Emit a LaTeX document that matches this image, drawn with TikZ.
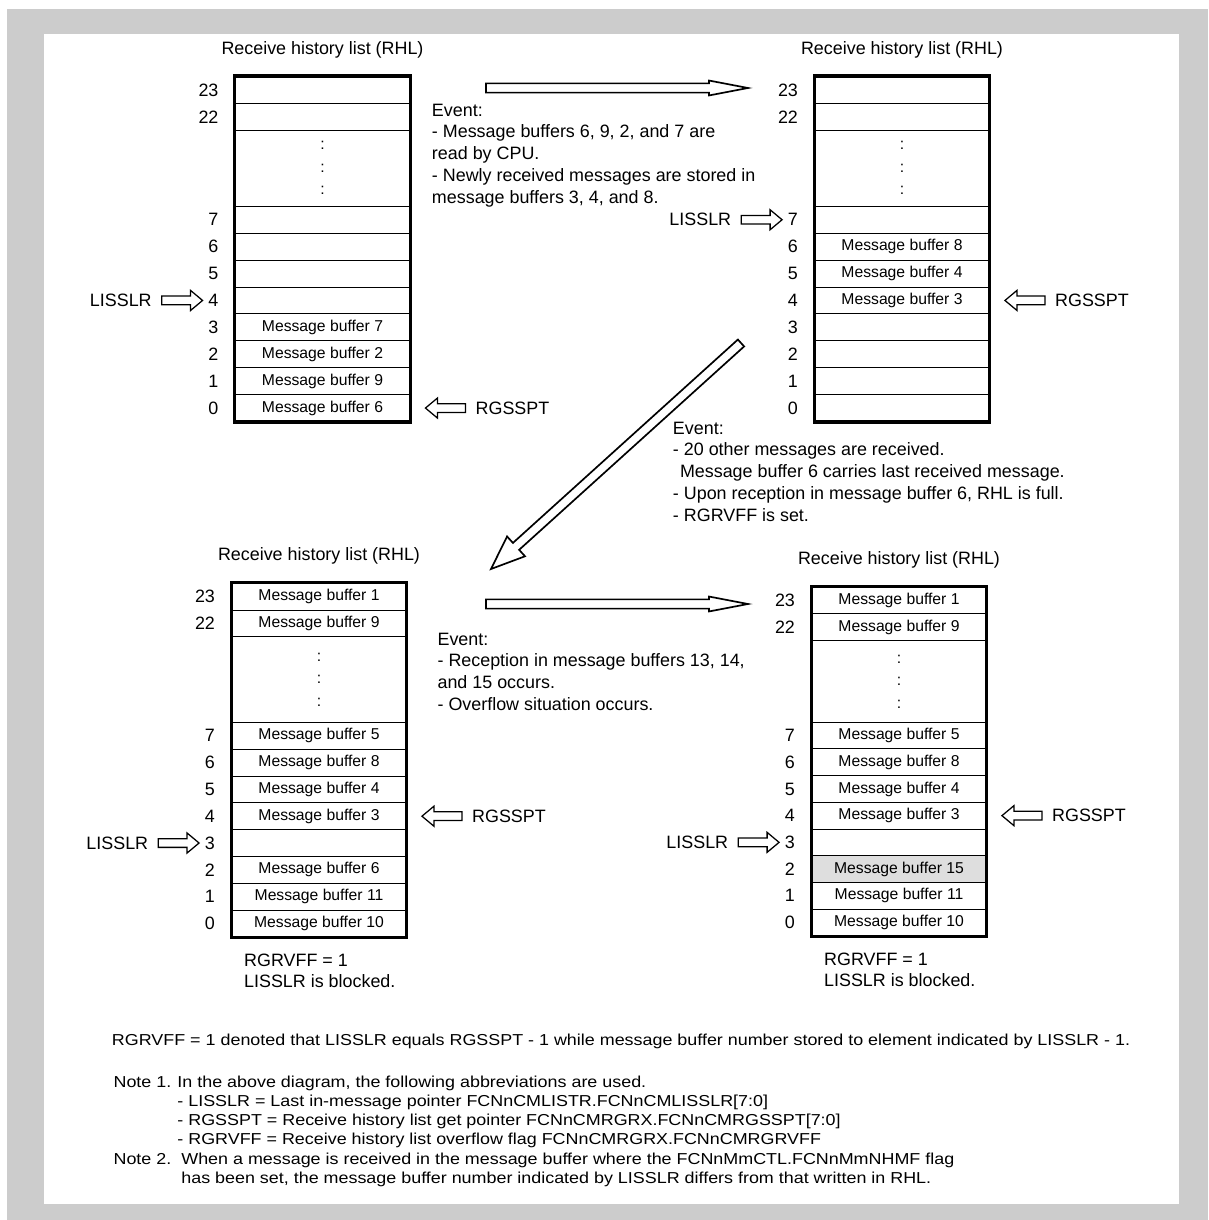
\documentclass[tikz,border=0pt]{standalone}
\usepackage{fontspec}
\setmainfont{Liberation Sans}
\newfontfamily\notefamily[FakeStretch=1.13]{Liberation Sans}
\usepackage{tikz}
\usetikzlibrary{positioning, calc}
\definecolor{framegray}{RGB}{204, 204, 204}
\definecolor{rowgray}{RGB}{222, 222, 222}
\newcommand{\mainsize}{\fontsize{12.73}{15.44}\selectfont}
\newcommand{\cellsize}{\fontsize{11.17}{16}\selectfont}
\newcommand{\notesize}{\notefamily\fontsize{11.27}{13.7}\selectfont}
\tikzset{
  cell/.style={draw=black, line width=0.7pt, inner sep=0pt,
    minimum width=4.3625cm, font=\cellsize, align=center},
  listframe/.style={draw=black, line width=2.2pt},
  idx/.style={font=\mainsize, inner sep=4pt},
  ptr/.style={font=\mainsize, inner xsep=7pt, inner ysep=2pt},
  txt/.style={font=\mainsize, align=left, inner sep=0pt, anchor=north west},
  note/.style={font=\notesize, align=left, inner sep=0pt, anchor=north west},
  block/.style n args={3}{to path={
    let \p1=($(\tikztotarget)!#3!(\tikztostart)$) in
    ($(\tikztostart)!#1!90:(\tikztotarget)$) -- ($(\p1)!#1!90:(\tikztotarget)$)
    -- ($(\p1)!#2!90:(\tikztotarget)$) -- (\tikztotarget)
    -- ($(\p1)!#2!-90:(\tikztotarget)$) -- ($(\p1)!#1!-90:(\tikztotarget)$)
    -- ($(\tikztostart)!#1!-90:(\tikztotarget)$) -- cycle}},
}
% #1 name, #2 centre x, #3 top y, #4 row height, #5 height of the dotted part, #6 rows
\newcommand{\rhllist}[6]{%
  \node[font=\mainsize] (#1-title) at ({#2},{#3-27}) {Receive history list (RHL)};
  \foreach \row/\rowfill/\txt [count=\k] in {#6} {
    \pgfmathsetmacro\rowy{#3+(\k-0.5)*#4+(\k>2 ? #5 : 0)}
    \node[cell, minimum height=#4*0.025cm, fill=\rowfill] (#1-\row) at (#2,\rowy) {\txt};
    \node[idx, left=7.4pt of #1-\row] (#1-\row-i) {\row};
  }
  \node[cell, minimum height=#5*0.025cm] (#1-dots) at ({#2},{#3+2*#4+#5/2}) {:\\:\\:};
  \draw[listframe] (#1-23.north west) rectangle (#1-0.south east);
}

\begin{document}
\begin{tikzpicture}[x=0.025cm, y=-0.025cm,
  pointer/.style={draw=black, line width=0.9pt, fill=white, block={3.1pt}{7.1pt}{8.5pt}},
  movearrow/.style={draw=black, line width=1.2pt, fill=white, block={3.3pt}{5.3pt}{27.7pt}}]

\useasboundingbox (0,0) rectangle (1208,1220);
\fill[framegray] (7,9) rectangle (1208,1220);
\fill[white] (44,34) rectangle (1179,1204);

\rhllist{tl}{322.5}{76.5}{26.9}{76}{23/white/, 22/white/, 7/white/, 6/white/, 5/white/, 4/white/,
  3/white/Message buffer 7, 2/white/Message buffer 2, 1/white/Message buffer 9, 0/white/Message buffer 6}
\rhllist{tr}{902}{76.5}{26.9}{76}{23/white/, 22/white/, 7/white/, 6/white/Message buffer 8,
  5/white/Message buffer 4, 4/white/Message buffer 3, 3/white/, 2/white/, 1/white/, 0/white/}
\rhllist{bl}{319}{583.2}{26.8}{85.6}{23/white/Message buffer 1, 22/white/Message buffer 9,
  7/white/Message buffer 5, 6/white/Message buffer 8, 5/white/Message buffer 4, 4/white/Message buffer 3,
  3/white/, 2/white/Message buffer 6, 1/white/Message buffer 11, 0/white/Message buffer 10}
\rhllist{br}{899}{587.2}{26.7}{81.6}{23/white/Message buffer 1, 22/white/Message buffer 9,
  7/white/Message buffer 5, 6/white/Message buffer 8, 5/white/Message buffer 4, 4/white/Message buffer 3,
  3/white/, 2/rowgray/Message buffer 15, 1/white/Message buffer 11, 0/white/Message buffer 10}

\node[ptr, left=29pt of tl-4-i] (tl-last) {LISSLR};
\node[ptr, left=29pt of tr-7-i] (tr-last) {LISSLR};
\node[ptr, left=29pt of bl-3-i] (bl-last) {LISSLR};
\node[ptr, left=29pt of br-3-i] (br-last) {LISSLR};
\draw[pointer] (tl-last.east) to (tl-4-i.west);
\draw[pointer] (tr-last.east) to (tr-7-i.west);
\draw[pointer] (bl-last.east) to (bl-3-i.west);
\draw[pointer] (br-last.east) to (br-3-i.west);

\node[ptr, right=39.3pt of tl-0] (tl-get) {RGSSPT};
\node[ptr, right=39.3pt of tr-4] (tr-get) {RGSSPT};
\node[ptr, right=39.3pt of bl-4] (bl-get) {RGSSPT};
\node[ptr, right=39.3pt of br-4] (br-get) {RGSSPT};
\coordinate (tl-get-tip) at ([xshift=10.8pt]tl-0.east);
\coordinate (tr-get-tip) at ([xshift=10.8pt]tr-4.east);
\coordinate (bl-get-tip) at ([xshift=10.8pt]bl-4.east);
\coordinate (br-get-tip) at ([xshift=10.8pt]br-4.east);
\draw[pointer] (tl-get.west) to (tl-get-tip);
\draw[pointer] (tr-get.west) to (tr-get-tip);
\draw[pointer] (bl-get.west) to (bl-get-tip);
\draw[pointer] (br-get.west) to (br-get-tip);

\coordinate (move1-a) at (486,88);
\coordinate (move1-b) at (748,88);
\coordinate (move2-a) at (741,343);
\coordinate (move2-b) at (491,569);
\coordinate (move3-a) at (486,604);
\coordinate (move3-b) at (748,604);
\draw[movearrow] (move1-a) to (move1-b);
\draw[movearrow, block={3.3pt}{9.5pt}{24pt}] (move2-a) to (move2-b);
\draw[movearrow] (move3-a) to (move3-b);

\node[txt] (event1) at (431.7,103.6) {Event:\\- Message buffers 6, 9, 2, and 7 are\\read by CPU.\\- Newly received messages are stored in\\message buffers 3, 4, and 8.};
\node[txt] (event2) at (672.7,421.6) {Event:\\- 20 other messages are received.\\\hspace*{5pt}Message buffer 6 carries last received message.\\- Upon reception in message buffer 6, RHL is full.\\- RGRVFF is set.};
\node[txt] (event3) at (437.3,632.6) {Event:\\- Reception in message buffers 13, 14,\\and 15 occurs.\\- Overflow situation occurs.};

\node[txt] (bl-flag) at ([shift={(9pt,-11.5pt)}]bl-0.south west) {RGRVFF = 1\\LISSLR is blocked.};
\node[txt] (br-flag) at ([shift={(9pt,-11.5pt)}]br-0.south west) {RGRVFF = 1\\LISSLR is blocked.};

\node[note] (remark) at (111.7,1033.3) {RGRVFF = 1 denoted that LISSLR equals RGSSPT - 1 while message buffer number stored to element indicated by LISSLR - 1.};
\node[note] (notes) at (113.3,1075.3) {\makebox[45.4pt][l]{Note 1.}In the above diagram, the following abbreviations are used.\\
\hspace*{45.4pt}- LISSLR = Last in-message pointer FCNnCMLISTR.FCNnCMLISSLR[7:0]\\
\hspace*{45.4pt}- RGSSPT = Receive history list get pointer FCNnCMRGRX.FCNnCMRGSSPT[7:0]\\
\hspace*{45.4pt}- RGRVFF = Receive history list overflow flag FCNnCMRGRX.FCNnCMRGRVFF\\
\makebox[48.2pt][l]{Note 2.}When a message is received in the message buffer where the FCNnMmCTL.FCNnMmNHMF flag\\
\hspace*{48.2pt}has been set, the message buffer number indicated by LISSLR differs from that written in RHL.};

\end{tikzpicture}
\end{document}
